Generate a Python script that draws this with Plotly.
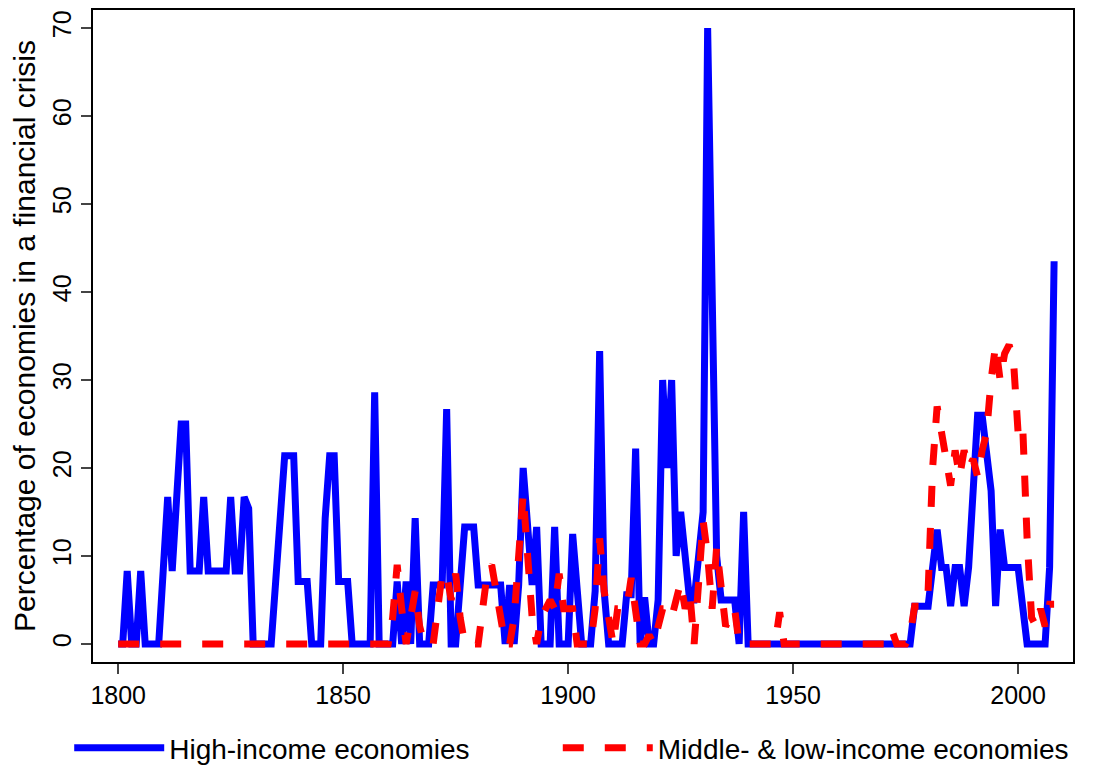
import plotly.graph_objects as go

years = list(range(1800, 2009))

high_income = [
    0, 0, 8.3, 0, 0, 8.3, 0, 0, 0, 0,            # 1800s
    8.3, 16.7, 8.3, 16.7, 25, 25, 8.3, 8.3, 8.3, 16.7,  # 1810s
    8.3, 8.3, 8.3, 8.3, 8.3, 16.7, 8.3, 8.3, 16.7, 15.4,  # 1820s
    0, 0, 0, 0, 0, 7.1, 14.3, 21.4, 21.4, 21.4,  # 1830s
    7.1, 7.1, 7.1, 0, 0, 0, 14.3, 21.4, 21.4, 7.1,  # 1840s
    7.1, 7.1, 0, 0, 0, 0, 0, 28.6, 0, 0,         # 1850s
    0, 0, 7.1, 0, 7.1, 0, 14.3, 0, 0, 0,         # 1860s
    6.7, 6.7, 6.7, 26.7, 0, 0, 6.7, 13.3, 13.3, 13.3,  # 1870s
    6.7, 6.7, 6.7, 6.7, 6.7, 6.7, 0, 6.7, 0, 6.7,  # 1880s
    20, 13.3, 6.7, 13.3, 0, 0, 0, 13.3, 0, 0,    # 1890s
    0, 12.5, 6.3, 0, 0, 0, 6, 33.3, 6, 0,        # 1900s
    0, 0, 0, 5.6, 5.6, 22.2, 0, 5.3, 0, 0,       # 1910s
    5, 30, 20, 30, 10, 15, 10, 5, 5, 10,         # 1920s
    15, 70, 35, 10, 5, 5, 5, 5, 0, 15,           # 1930s
    0, 0, 0, 0, 0, 0, 0, 0, 0, 0,                # 1940s
    0, 0, 0, 0, 0, 0, 0, 0, 0, 0,                # 1950s
    0, 0, 0, 0, 0, 0, 0, 0, 0, 0,                # 1960s
    0, 0, 0, 0, 0, 0, 0, 4.3, 4.3, 4.3,          # 1970s
    4.3, 8.7, 13, 8.7, 8.7, 4.3, 8.7, 8.7, 4.3, 8.7,  # 1980s
    17.4, 26, 26, 21.7, 17.4, 4.3, 13, 8.7, 8.7, 8.7,  # 1990s
    8.7, 4.3, 0, 0, 0, 0, 0, 8.7, 43.5,          # 2000s
]

middle_low = [0] * 61 + [
    3, 9, 4, 0, 3, 6, 2, 0, 0,                   # 1861-1869
    0, 4, 8, 8, 5, 8, 3, 0, 0, 0,                # 1870s
    0, 4, 8, 9, 6, 4, 0, 0, 3, 10,               # 1880s
    17, 10, 3, 0, 3, 4, 5, 4, 8, 4,              # 1890s
    4, 4, 0, 0, 0, 0, 4, 12, 6, 3,               # 1900s
    0, 4, 4, 4, 7.5, 4, 0, 0, 1, 0,              # 1910s
    2, 4, 4, 3, 5, 7, 4, 6, 0, 7,                # 1920s
    14, 10, 4, 11, 6, 2, 3, 4, 0, 0,             # 1930s
    0, 0, 0, 0, 0, 0, 0, 3.6, 0, 0,              # 1940s
    0, 0, 0, 0, 0, 0, 0, 0, 0, 0,                # 1950s
    0, 0, 0, 0, 0, 0, 0, 0, 0, 0,                # 1960s
    0, 0, 1.5, 0, 0, 0, 1, 4.3, 4.3, 4.3,        # 1970s
    6, 20, 27, 24, 22, 18, 22, 19, 22, 20,       # 1980s
    21, 19, 22, 24, 30, 34, 30, 33, 34, 32,      # 1990s
    24, 25, 12, 3, 2, 4, 2, 4.5, 4.5,            # 2000s
]

font = "Liberation Sans, Arial, sans-serif"

fig = go.Figure()
fig.add_trace(go.Scatter(x=years, y=high_income, mode="lines",
                         name="High-income economies", legend="legend2",
                         line=dict(color="#0000ff", width=7)))
fig.add_trace(go.Scatter(x=years, y=middle_low, mode="lines",
                         name="Middle- & low-income economies", legend="legend3",
                         line=dict(color="#ff0000", width=7, dash="dash")))

fig.update_layout(
    width=1093, height=767,
    margin=dict(l=85, r=28, t=2, b=113),
    plot_bgcolor="white", paper_bgcolor="white",
    font=dict(family=font, size=25, color="black"),
    showlegend=True,
    legend2=dict(orientation="h", xref="container", yref="container", x=0.056, y=0.035,
                 yanchor="middle", xanchor="left", font=dict(size=28), itemwidth=90),
    legend3=dict(orientation="h", xref="container", yref="container", x=0.503, y=0.035,
                 yanchor="middle", xanchor="left", font=dict(size=28), itemwidth=90),
    xaxis=dict(range=[1794.4, 2012.2], tickvals=[1800, 1850, 1900, 1950, 2000],
               showline=True, linecolor="black", linewidth=1.5, mirror=True,
               ticks="outside", ticklen=10, tickwidth=1.5, showgrid=False,
               zeroline=False, automargin=False),
    yaxis=dict(range=[-2.05, 72.05], tickvals=[0, 10, 20, 30, 40, 50, 60, 70],
               tickangle=-90,
               title=dict(text="Percentage of economies in a financial crisis", standoff=6),
               showline=True, linecolor="black", linewidth=1.5, mirror=True,
               ticks="outside", ticklen=10, tickwidth=1.5, showgrid=False,
               zeroline=False, automargin=False),
)

fig.write_html("out.html")
